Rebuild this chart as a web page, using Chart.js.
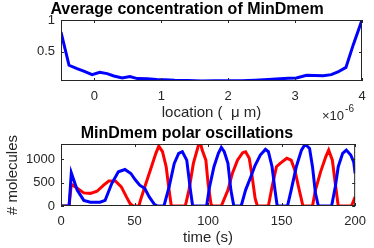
<!DOCTYPE html>
<html lang="en">
<head>
<meta charset="UTF-8" />
<title>MinDmem</title>
<script src="https://cdn.jsdelivr.net/npm/chart.js"></script>
<style>
  html, body { margin: 0; padding: 0; background: #fff; }
  #wrap { position: relative; width: 374px; height: 248px; }
  .panel { position: absolute; left: 0; width: 374px; height: 124px; }
</style>
</head>
<body>
<div id="wrap">
  <div class="panel" style="top:0"><canvas id="avgChart" width="374" height="124"></canvas></div>
  <div class="panel" style="top:124px"><canvas id="oscChart" width="374" height="124"></canvas></div>
</div>
<script>
// Средняя концентрация (x в единицах 1e-6 м)
const locX = [-0.5, -0.38, -0.26, -0.16, -0.035, 0.08, 0.19, 0.29, 0.415, 0.53, 0.64, 0.79, 0.93, 1.05, 1.2, 1.4,
              1.6, 1.8, 2.0, 2.2, 2.4, 2.6, 2.77, 2.9, 3.02, 3.17, 3.42, 3.54, 3.64, 3.76, 3.87, 4.0];
const locY = [0.81, 0.284, 0.23, 0.19, 0.136, 0.174, 0.152, 0.115, 0.084, 0.105, 0.073, 0.07, 0.058, 0.055, 0.046, 0.042,
              0.036, 0.037, 0.037, 0.04, 0.048, 0.06, 0.07, 0.079, 0.084, 0.126, 0.12, 0.136, 0.178, 0.25, 0.61, 1.0];
const locTicks = [0, 1, 2, 3, 4];
const concTicks = [0.5, 1];

// Полярные осцилляции
const blueT = [0, 5.5, 7, 11, 15.5, 20, 26.5, 30, 34.5, 39, 43.5, 47.5, 50.5, 53.5, 57, 60, 63.5, 65.5, 70, 73.5,
               77, 80, 82.5, 85.5, 88, 89.5, 99, 101, 104, 107, 109, 111, 113.5, 115.5, 117.5, 122.5, 125.5, 129, 132, 135.5,
               139, 141, 143.5, 145.5, 147, 154, 156.5, 160, 163.5, 166, 169, 171, 173, 175, 184, 186.5, 188.5, 191.5, 194, 197,
               199, 200];
const blueV = [0, 0, 710, 340, 120, 80, 80, 120, 480, 730, 780, 695, 560, 445, 375, 195, 35, 0, 0, 410,
               910, 1125, 1160, 980, 340, 0, 0, 410, 840, 1125, 1250, 1160, 910, 340, 0, 0, 340, 620, 870, 1090,
               1210, 1160, 840, 340, 0, 0, 340, 840, 1195, 1320, 1230, 840, 270, 0, 0, 410, 840, 1125, 1195, 1090,
               945, 695];
const redT = [0, 5.5, 7, 11.5, 15.5, 20, 24.5, 29, 32.5, 37, 41, 44.5, 47, 49, 53, 54, 57, 61.5, 64.5, 66.5,
              69, 71.5, 73.5, 75, 84.5, 87, 90, 93.5, 95, 96, 98.5, 100, 102, 103, 109, 113.5, 116.5, 120, 123.5, 125.5,
              128, 130, 132, 133.5, 141, 143.5, 146.5, 149, 153.5, 156.5, 159, 162, 164.5, 171, 173, 176.5, 180, 182, 184.5, 186.5,
              188.5, 197.5, 200];
const redV = [0, 0, 465, 370, 280, 270, 315, 445, 535, 535, 410, 195, 50, 0, 0, 120, 410, 840, 1125, 1280,
              1160, 840, 340, 0, 0, 340, 910, 1300, 1320, 1195, 980, 480, 40, 0, 0, 340, 695, 980, 1140, 1160,
              1020, 620, 160, 0, 0, 410, 840, 910, 1020, 980, 765, 340, 0, 0, 340, 730, 1050, 1195, 980, 480,
              0, 0, 195];
const timeTicks = [0, 50, 100, 150, 200];
const molTicks = [0, 500, 1000];

Chart.defaults.font.family = "'Liberation Sans', Arial, sans-serif";
Chart.defaults.color = '#262626';

function pairs(xs, ys) {
    return xs.map((x, i) => ({ x: x, y: ys[i] }));
}

// рамка и внутренние засечки как в MATLAB
const axesBox = {
    id: 'axesBox',
    afterDatasetsDraw(chart) {
        const { ctx, chartArea: a, scales } = chart;
        ctx.save();
        ctx.strokeStyle = '#262626';
        ctx.lineWidth = 1;
        ctx.strokeRect(a.left + 0.5, a.top + 0.5, a.width - 1, a.height - 1);
        ctx.beginPath();
        scales.x.ticks.forEach(t => {
            const px = Math.round(scales.x.getPixelForValue(t.value)) + 0.5;
            ctx.moveTo(px, a.bottom); ctx.lineTo(px, a.bottom - 3);
            ctx.moveTo(px, a.top); ctx.lineTo(px, a.top + 3);
        });
        scales.y.ticks.forEach(t => {
            const py = Math.round(scales.y.getPixelForValue(t.value)) + 0.5;
            ctx.moveTo(a.left, py); ctx.lineTo(a.left + 3, py);
            ctx.moveTo(a.right, py); ctx.lineTo(a.right - 3, py);
        });
        ctx.stroke();
        ctx.restore();
    }
};

const expLabel = {
    id: 'expLabel',
    afterDraw(chart) {
        const ctx = chart.ctx;
        ctx.save();
        ctx.fillStyle = '#262626';
        ctx.textBaseline = 'alphabetic';
        ctx.font = "13px 'Liberation Sans', Arial, sans-serif";
        ctx.fillText('×10', 322, 120);
        const w = ctx.measureText('×10').width;
        ctx.font = "10px 'Liberation Sans', Arial, sans-serif";
        ctx.fillText('-6', 322 + w + 1, 112);
        ctx.restore();
    }
};

function titleOpts(text) {
    return { display: true, text: text, color: '#000', font: { size: 16, weight: 'bold' }, padding: { top: 0.4, bottom: 0.4 } };
}

const noGrid = { display: false, drawTicks: false };
const plain = v => String(v);
// пустая правая ось — отступ справа, чтобы заголовок стоял по центру фигуры
const rightGap = {
    position: 'right', grid: noGrid, border: { display: false },
    ticks: { display: false },
    afterFit: s => { s.width = 12; }
};

// Верхний график
new Chart(document.getElementById('avgChart'), {
    type: 'line',
    data: {
        datasets: [{
            data: pairs(locX, locY),
            borderColor: '#0000ff',
            borderWidth: 3,
            pointRadius: 0,
            tension: 0
        }]
    },
    options: {
        responsive: false,
        animation: false,
        layout: { padding: 0 },
        plugins: {
            legend: { display: false },
            tooltip: { enabled: false },
            title: titleOpts('Average concentration of MinDmem')
        },
        scales: {
            x: {
                type: 'linear', min: -0.5, max: 4,
                grid: noGrid, border: { display: false },
                afterBuildTicks: s => { s.ticks = locTicks.map(v => ({ value: v })); },
                afterFit: s => { s.height = 43; },
                ticks: { font: { size: 13 }, padding: 8, maxRotation: 0, callback: plain },
                title: { display: true, text: 'location (  μ m)', font: { size: 15 }, padding: { top: 0, bottom: 2 } }
            },
            y: {
                type: 'linear', min: 0.035, max: 1,
                grid: noGrid, border: { display: false },
                afterBuildTicks: s => { s.ticks = concTicks.map(v => ({ value: v })); },
                afterFit: s => { s.width = 61; },
                ticks: { font: { size: 13 }, padding: 6, callback: plain }
            },
            gap: rightGap
        }
    },
    plugins: [axesBox, expLabel]
});

// Нижний график
new Chart(document.getElementById('oscChart'), {
    type: 'line',
    data: {
        datasets: [{
            data: pairs(blueT, blueV),
            borderColor: '#0000ff',
            borderWidth: 3,
            pointRadius: 0,
            tension: 0
        }, {
            data: pairs(redT, redV),
            borderColor: '#ff0000',
            borderWidth: 3,
            pointRadius: 0,
            tension: 0
        }]
    },
    options: {
        responsive: false,
        animation: false,
        layout: { padding: 0 },
        plugins: {
            legend: { display: false },
            tooltip: { enabled: false },
            title: titleOpts('MinDmem polar oscillations')
        },
        scales: {
            x: {
                type: 'linear', min: 0, max: 200,
                grid: noGrid, border: { display: false },
                afterBuildTicks: s => { s.ticks = timeTicks.map(v => ({ value: v })); },
                afterFit: s => { s.height = 42; },
                ticks: { font: { size: 13 }, padding: 8, maxRotation: 0, callback: plain },
                title: { display: true, text: 'time (s)', font: { size: 15 }, padding: { top: 0, bottom: 1 } }
            },
            y: {
                type: 'linear', min: 0, max: 1325,
                grid: noGrid, border: { display: false },
                afterBuildTicks: s => { s.ticks = molTicks.map(v => ({ value: v })); },
                afterFit: s => { s.width = 61; },
                ticks: { font: { size: 13 }, padding: 6, callback: plain },
                title: { display: true, text: '# molecules', font: { size: 15 }, padding: { top: 4, bottom: 0 } }
            },
            gap: rightGap
        }
    },
    plugins: [axesBox]
});
</script>
</body>
</html>
